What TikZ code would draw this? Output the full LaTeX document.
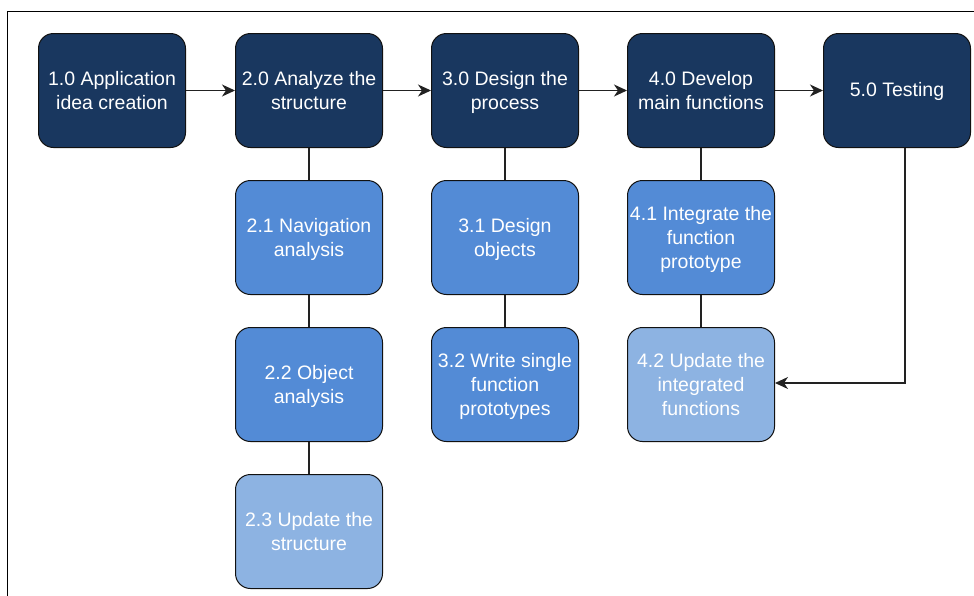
\documentclass[tikz,border=0pt]{standalone}
\usepackage{fontspec}
\setmainfont{Liberation Sans}
\usetikzlibrary{arrows.meta}
\definecolor{navy}{HTML}{19375F}
\definecolor{midblue}{HTML}{538BD6}
\definecolor{lightblue}{HTML}{8DB3E2}
\definecolor{edge}{HTML}{111111}
\definecolor{linec}{HTML}{222222}
\tikzset{
  box/.style={draw=edge, line width=1pt, rounded corners=15pt, minimum width=147pt, minimum height=114pt,
    inner sep=0pt, anchor=north west},
  txt/.style={inner sep=0pt, align=center, text=white, font=\fontsize{19.5}{24}\selectfont,
    execute at begin node=\strut, execute at end node=\strut, yshift=-4pt},
  topbox/.style={box, fill=navy},
  subbox/.style={box, fill=midblue},
  lastbox/.style={box, fill=lightblue},
  link/.style={draw=linec, line width=1.1pt},
  arr/.style={link, -{Stealth[length=13pt,width=12pt,inset=4pt]}}
}
\begin{document}
\begin{tikzpicture}[x=1pt,y=-1pt]
\useasboundingbox (0,0) rectangle (974,595);
\draw[line width=0.8pt, black] (7,600) -- (7,11) -- (980,11);
\node[topbox] (n10) at (38,33) {};
\node[topbox] (n20) at (235,33) {};
\node[topbox] (n30) at (431,33) {};
\node[topbox] (n40) at (627,33) {};
\node[topbox] (n50) at (823,33) {};
\node[subbox] (n21) at (235,180) {};
\node[subbox] (n22) at (235,327) {};
\node[lastbox] (n23) at (235,474) {};
\node[subbox] (n31) at (431,180) {};
\node[subbox] (n32) at (431,327) {};
\node[subbox] (n41) at (627,180) {};
\node[lastbox] (n42) at (627,327) {};
\node[txt] (t10) at (n10.center) {1.0 Application\\idea creation};
\node[txt] (t20) at (n20.center) {2.0 Analyze the\\structure};
\node[txt] (t30) at (n30.center) {3.0 Design the\\process};
\node[txt] (t40) at (n40.center) {4.0 Develop\\main functions};
\node[txt, yshift=2.5pt] (t50) at (n50.center) {5.0 Testing};
\node[txt] (t21) at (n21.center) {2.1 Navigation\\analysis};
\node[txt] (t22) at (n22.center) {2.2 Object\\analysis};
\node[txt] (t23) at (n23.center) {2.3 Update the\\structure};
\node[txt] (t31) at (n31.center) {3.1 Design\\objects};
\node[txt] (t32) at (n32.center) {3.2 Write single\\function\\prototypes};
\node[txt] (t41) at (n41.center) {4.1 Integrate the\\function\\prototype};
\node[txt] (t42) at (n42.center) {4.2 Update the\\integrated\\functions};
\draw[arr] (n10) -- (n20);
\draw[arr] (n20) -- (n30);
\draw[arr] (n30) -- (n40);
\draw[arr] (n40) -- (n50);
\draw[link] (n20) -- (n21);
\draw[link] (n21) -- (n22);
\draw[link] (n22) -- (n23);
\draw[link] (n30) -- (n31);
\draw[link] (n31) -- (n32);
\draw[link] (n40) -- (n41);
\draw[link] (n41) -- (n42);
\coordinate (bend) at ([xshift=8pt]n50.south |- 0,383);
\draw[arr] ([xshift=8pt]n50.south) -- (bend) -- (bend -| n42.east);
\end{tikzpicture}
\end{document}
